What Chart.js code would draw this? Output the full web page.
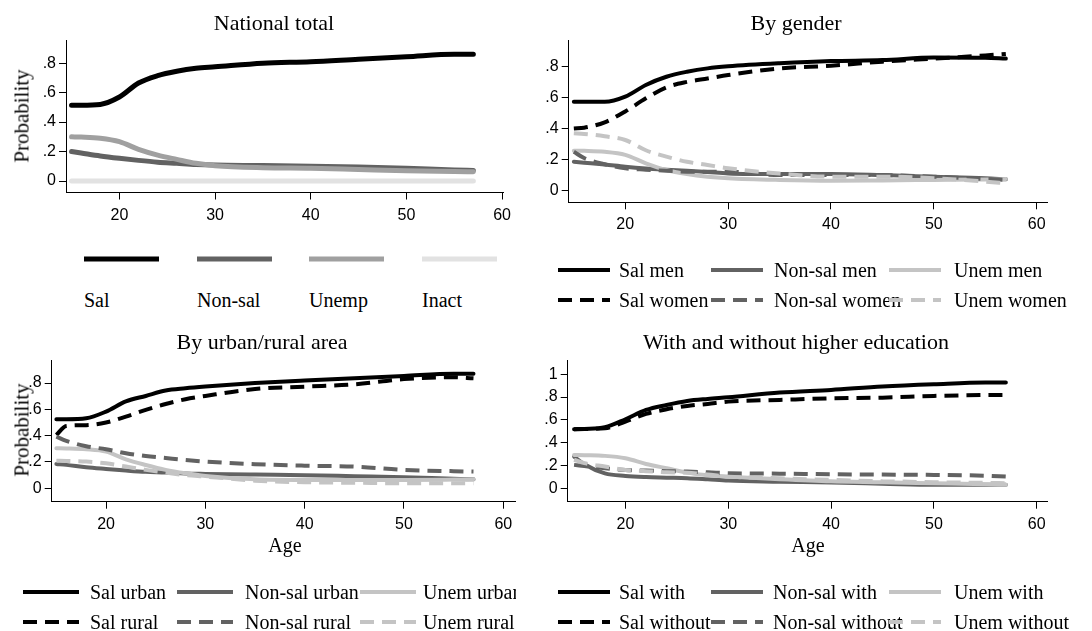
<!DOCTYPE html>
<html>
<head>
<meta charset="utf-8">
<title>Employment probabilities by age</title>
<script src="https://cdn.jsdelivr.net/npm/chart.js@4.4.1/dist/chart.umd.min.js"></script>
<style>
  body { margin: 0; background: #fff; }
  #page { position: relative; width: 1092px; height: 631px; overflow: hidden; background: #fff;
          font-family: "Liberation Serif", "Times New Roman", serif; color: #000; }
  .txt { position: absolute; white-space: nowrap; line-height: 1; }
  .clip { position: absolute; left: 0; top: 0; overflow: hidden; height: 631px; }
  canvas { position: absolute; }
  svg { position: absolute; overflow: visible; }
</style>
</head>
<body>
<div id="page"></div>
<script>
// ages at which the predicted probabilities are read
const ages = [15, 16, 18, 20, 22, 24, 26, 28, 30, 35, 40, 45, 50, 55, 57];
const xTicks = [20, 30, 40, 50, 60];
const yTicks = [0, .2, .4, .6, .8];
const yTicksEdu = [0, .2, .4, .6, .8, 1];

// national total
const natSal    = [.515, .515, .52, .57, .665, .715, .745, .765, .775, .80, .81, .827, .843, .86, .86];
const natNonSal = [.20, .19, .17, .154, .14, .128, .12, .112, .108, .105, .10, .095, .086, .075, .072];
const natUnemp  = [.30, .298, .29, .267, .215, .176, .147, .12, .104, .09, .086, .078, .07, .064, .063];
const natInact  = [0, 0, 0, 0, 0, 0, 0, 0, 0, 0, 0, 0, 0, 0, 0];

// by gender
const salMen      = [.572, .572, .572, .605, .68, .733, .765, .787, .80, .82, .834, .84, .857, .855, .85];
const nonSalMen   = [.186, .18, .168, .154, .143, .135, .128, .12, .111, .107, .107, .10, .09, .08, .073];
const unemMen     = [.257, .256, .25, .23, .176, .133, .107, .09, .08, .069, .064, .066, .069, .072, .075];
const salWomen    = [.40, .405, .44, .51, .594, .665, .70, .722, .744, .787, .804, .83, .85, .87, .88];
const nonSalWomen = [.25, .21, .17, .144, .135, .128, .122, .122, .122, .10, .10, .10, .09, .075, .07];
const unemWomen   = [.369, .365, .35, .326, .26, .219, .186, .165, .144, .11, .09, .09, .08, .058, .047];

// by urban / rural area
const salUrban    = [.525, .525, .532, .583, .66, .702, .743, .76, .773, .80, .82, .837, .854, .87, .87];
const nonSalUrban = [.185, .178, .16, .147, .135, .125, .12, .112, .109, .104, .10, .092, .084, .072, .068];
const unemUrban   = [.304, .303, .297, .279, .22, .177, .14, .114, .094, .068, .063, .063, .063, .066, .068];
const salRural    = [.405, .474, .48, .50, .545, .596, .641, .677, .702, .755, .773, .79, .83, .844, .836];
const nonSalRural = [.393, .36, .32, .297, .266, .245, .23, .215, .203, .183, .172, .165, .14, .13, .127];
const unemRural   = [.21, .208, .203, .19, .165, .14, .12, .10, .089, .058, .046, .042, .038, .038, .038];

// with / without higher education
const salWith       = [.518, .52, .535, .605, .687, .731, .766, .784, .798, .839, .863, .892, .912, .927, .927];
const nonSalWith    = [.278, .21, .13, .108, .098, .093, .088, .078, .067, .058, .05, .04, .03, .03, .03];
const unemWith      = [.292, .29, .284, .263, .213, .175, .137, .114, .102, .079, .061, .053, .044, .035, .03];
const salWithout    = [.518, .52, .526, .585, .652, .693, .722, .74, .76, .775, .789, .795, .81, .818, .819];
const nonSalWithout = [.205, .195, .175, .16, .155, .15, .146, .14, .132, .128, .123, .12, .117, .11, .102];
const unemWithout   = [.25, .22, .19, .16, .15, .14, .137, .12, .102, .088, .073, .062, .053, .047, .044];

const BLACK = '#000000', DARK = '#626262', MID = '#a0a0a0', LIGHT = '#c4c4c4', PALE = '#e2e2e2';
const DASH = [14, 8];

const panels = [
  {
    title: 'National total', titleX: 274, titleY: 23,
    area: { l: 66, t: 40.5, r: 505, b: 192.5 }, xRange: [14.42, 60.18], yRange: [-0.078, 0.953],
    yTicks: yTicks, yTitle: { x: 22, y: 116 }, lineWidth: 5,
    series: [
      { label: 'Sal', values: natSal, color: BLACK },
      { label: 'Non-sal', values: natNonSal, color: DARK },
      { label: 'Unemp', values: natUnemp, color: MID },
      { label: 'Inact', values: natInact, color: PALE }
    ],
    legend: { kind: 'stacked', lineX: [84, 197, 309, 422], lineLen: 75, lineY: 259, textY: 300 }
  },
  {
    title: 'By gender', titleX: 796, titleY: 23,
    area: { l: 568.7, t: 40.7, r: 1047.7, b: 202.3 }, xRange: [14.5, 61.07], yRange: [-0.075, 0.965],
    yTicks: yTicks, lineWidth: 4,
    series: [
      { label: 'Sal men', values: salMen, color: BLACK },
      { label: 'Non-sal men', values: nonSalMen, color: DARK },
      { label: 'Unem men', values: unemMen, color: LIGHT },
      { label: 'Sal women', values: salWomen, color: BLACK, dash: DASH },
      { label: 'Non-sal women', values: nonSalWomen, color: DARK, dash: DASH },
      { label: 'Unem women', values: unemWomen, color: LIGHT, dash: DASH }
    ],
    legend: { kind: 'grid', lineX: [558, 711, 889], textX: [619, 774, 954], lineLen: 52, rowY: [270, 300], clip: 1092 }
  },
  {
    title: 'By urban/rural area', titleX: 262, titleY: 342,
    area: { l: 51.7, t: 360.7, r: 515, b: 501.7 }, xRange: [14.53, 61.18], yRange: [-0.102, 0.97],
    yTicks: yTicks, yTitle: { x: 22, y: 430 }, xTitle: { x: 285, y: 545 }, lineWidth: 4,
    series: [
      { label: 'Sal urban', values: salUrban, color: BLACK },
      { label: 'Non-sal urban', values: nonSalUrban, color: DARK },
      { label: 'Unem urban', values: unemUrban, color: LIGHT },
      { label: 'Sal rural', values: salRural, color: BLACK, dash: DASH },
      { label: 'Non-sal rural', values: nonSalRural, color: DARK, dash: DASH },
      { label: 'Unem rural', values: unemRural, color: LIGHT, dash: DASH }
    ],
    legend: { kind: 'grid', lineX: [23, 177, 360], textX: [90, 245, 423], lineLen: 56, rowY: [592, 622], clip: 516 }
  },
  {
    title: 'With and without higher education', titleX: 796, titleY: 342,
    area: { l: 567.7, t: 360.7, r: 1047.7, b: 501.7 }, xRange: [14.38, 61.07], yRange: [-0.118, 1.119],
    yTicks: yTicksEdu, xTitle: { x: 808, y: 545 }, lineWidth: 4,
    series: [
      { label: 'Sal with', values: salWith, color: BLACK },
      { label: 'Non-sal with', values: nonSalWith, color: DARK },
      { label: 'Unem with', values: unemWith, color: LIGHT },
      { label: 'Sal without', values: salWithout, color: BLACK, dash: DASH },
      { label: 'Non-sal without', values: nonSalWithout, color: DARK, dash: DASH },
      { label: 'Unem without', values: unemWithout, color: LIGHT, dash: DASH }
    ],
    legend: { kind: 'grid', lineX: [558, 711, 889], textX: [619, 773, 954], lineLen: 52, rowY: [592, 622], clip: 1092 }
  }
];

const page = document.getElementById('page');

function addText(parent, str, x, y, size, align, rotate) {
  const d = document.createElement('div');
  d.className = 'txt';
  d.textContent = str;
  d.style.fontSize = size + 'px';
  d.style.left = x + 'px';
  d.style.top = y + 'px';
  const tx = align === 'center' ? '-50%' : '0';
  d.style.transform = `translate(${tx}, -50%)` + (rotate ? ' rotate(-90deg)' : '');
  parent.appendChild(d);
  return d;
}

function addLine(parent, x, y, len, s, width) {
  const ns = 'http://www.w3.org/2000/svg';
  const svg = document.createElementNS(ns, 'svg');
  svg.setAttribute('width', len);
  svg.setAttribute('height', 10);
  svg.style.left = x + 'px';
  svg.style.top = (y - 5) + 'px';
  const ln = document.createElementNS(ns, 'line');
  ln.setAttribute('x1', 0); ln.setAttribute('x2', len);
  ln.setAttribute('y1', 5); ln.setAttribute('y2', 5);
  ln.setAttribute('stroke', s.color);
  ln.setAttribute('stroke-width', width);
  if (s.dash) ln.setAttribute('stroke-dasharray', s.dash.join(' '));
  svg.appendChild(ln);
  parent.appendChild(svg);
}

function tickLabel(v) {
  if (v === 0) return '0';
  if (v === 1) return '1';
  return String(v).replace(/^0\./, '.');
}

function drawPanel(p) {
  const a = p.area;
  const cl = Math.floor(a.l - 48), ct = Math.floor(a.t - 12);
  const cr = Math.ceil(a.r + 12), cb = Math.ceil(a.b + 38);
  const canvas = document.createElement('canvas');
  canvas.width = cr - cl;
  canvas.height = cb - ct;
  canvas.style.left = cl + 'px';
  canvas.style.top = ct + 'px';
  canvas.style.width = (cr - cl) + 'px';
  canvas.style.height = (cb - ct) + 'px';
  page.appendChild(canvas);

  const n = p.series.length;
  const tickFont = { family: '"Liberation Sans", Arial, sans-serif', size: 16 };
  const axisGrid = { drawOnChartArea: false, drawTicks: true, tickLength: 7, color: '#000', lineWidth: 1 };

  new Chart(canvas, {
    type: 'line',
    data: {
      datasets: p.series.map((s, i) => ({
        label: s.label,
        data: ages.map((age, j) => ({ x: age, y: s.values[j] })),
        borderColor: s.color,
        borderWidth: p.lineWidth,
        borderDash: s.dash || [],
        borderCapStyle: s.dash ? 'butt' : 'round',
        borderJoinStyle: 'round',
        cubicInterpolationMode: 'monotone',
        pointRadius: 0,
        fill: false,
        order: n - i
      }))
    },
    options: {
      responsive: false,
      animation: false,
      events: [],
      layout: { autoPadding: false, padding: { left: 0, top: a.t - ct, right: cr - a.r, bottom: 0 } },
      plugins: { legend: { display: false }, tooltip: { enabled: false } },
      scales: {
        x: {
          type: 'linear', min: p.xRange[0], max: p.xRange[1],
          afterBuildTicks: (s) => { s.ticks = xTicks.map((v) => ({ value: v })); },
          afterFit: (s) => { s.height = cb - a.b; },
          grid: axisGrid,
          border: { display: true, color: '#000', width: 1 },
          ticks: { font: tickFont, color: '#000', padding: 6, maxRotation: 0, autoSkip: false }
        },
        y: {
          type: 'linear', min: p.yRange[0], max: p.yRange[1],
          afterBuildTicks: (s) => { s.ticks = p.yTicks.map((v) => ({ value: v })); },
          afterFit: (s) => { s.width = a.l - cl; },
          grid: axisGrid,
          border: { display: true, color: '#000', width: 1 },
          ticks: { font: tickFont, color: '#000', padding: 3, autoSkip: false, callback: (v) => tickLabel(v) }
        }
      }
    }
  });

  addText(page, p.title, p.titleX, p.titleY, 22, 'center');
  if (p.yTitle) addText(page, 'Probability', p.yTitle.x, p.yTitle.y, 21, 'center', true);
  if (p.xTitle) addText(page, 'Age', p.xTitle.x, p.xTitle.y, 20, 'center');

  // legend
  const lg = p.legend;
  if (lg.kind === 'stacked') {
    p.series.forEach((s, i) => {
      addLine(page, lg.lineX[i], lg.lineY, lg.lineLen, s, 5);
      addText(page, s.label, lg.lineX[i], lg.textY, 20, 'left');
    });
  } else {
    const box = document.createElement('div');
    box.className = 'clip';
    box.style.width = lg.clip + 'px';
    page.appendChild(box);
    p.series.forEach((s, i) => {
      const row = Math.floor(i / 3), col = i % 3;
      addLine(box, lg.lineX[col], lg.rowY[row], lg.lineLen, s, 4);
      addText(box, s.label, lg.textX[col], lg.rowY[row], 20, 'left');
    });
  }
}

panels.forEach(drawPanel);
</script>
</body>
</html>
